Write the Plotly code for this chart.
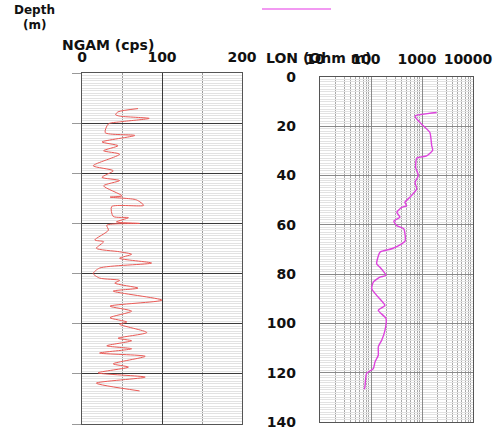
import plotly.graph_objects as go

# NGAM (cps) vs depth (m)
ngam_depth = [14.2, 15.5, 16.6, 17.2, 18.1, 19.5, 20.3, 23.8, 24.9, 27.5, 29.0, 31.0, 32.4, 37.0,
              39.0, 41.6, 42.9, 45.0, 49.0, 49.5, 50.6, 52.8, 53.3, 57.2, 57.7, 59.4, 60.0, 60.7,
              62.7, 66.6, 67.3, 69.9, 71.3, 72.3, 73.9, 75.8, 77.8, 80.0, 81.8, 82.7, 83.8, 85.8,
              87.0, 90.6, 93.0, 95.0, 97.6, 99.3, 100.2, 103.5, 105.8, 106.8, 108.8, 110.0, 111.7,
              113.0, 116.0, 117.3, 119.6, 121.3, 123.7, 126.8]
ngam_val = [70, 45, 42, 47, 84, 47, 33, 29, 66, 25, 45, 27, 47, 14,
            39, 25, 47, 27, 50, 35, 68, 77, 37, 39, 58, 43, 72, 31,
            33, 16, 27, 18, 47, 62, 47, 87, 22, 14, 22, 47, 41, 70,
            39, 100, 35, 62, 35, 56, 47, 81, 45, 62, 31, 62, 22,
            79, 39, 58, 20, 79, 18, 72]

# LON (Ohm m) vs depth (m)
lon_depth = [14.4, 15.8, 17.1, 19.8, 22.5, 27.9, 29.7, 32.0, 32.9, 36.7, 40.0, 42.8, 45.4, 48.8,
             50.9, 52.2, 52.9, 54.9, 56.9, 58.5, 60.3, 61.6, 66.4, 67.7, 69.7, 71.1, 75.8, 77.2,
             80.5, 81.2, 83.2, 85.9, 88.6, 92.7, 94.7, 98.0, 102.8, 106.8, 109.5, 112.9, 115.6,
             118.3, 120.3, 125.7, 126.7]
lon_val = [1940, 730, 790, 1060, 1430, 1550, 1620, 1230, 790, 750, 850, 730, 790, 580,
           460, 500, 400, 320, 370, 280, 320, 440, 470, 400, 255, 150, 129, 150,
           197, 150, 111, 103, 129, 188, 139, 197, 188, 162, 139, 139, 120,
           111, 82, 76, 74]

ngam_ticks = [0, 100, 200]
ngam_minor = [50, 150]
lon_ticks = [10, 100, 1000, 10000]
lon_labels = ["10", "100", "1000", "10000"]
depth_ticks = [0, 20, 40, 60, 80, 100, 120, 140]

FONT = "DejaVu Sans"
W, H = 500, 427

def px_x(p):
    return p / W

def px_y(p):
    return 1 - p / H

fig = go.Figure()
fig.add_trace(go.Scatter(x=ngam_val, y=ngam_depth, mode="lines", xaxis="x", yaxis="y",
                         line=dict(color="#ea5a56", width=1, shape="spline", smoothing=0.7),
                         showlegend=False, name="NGAM"))
fig.add_trace(go.Scatter(x=lon_val, y=lon_depth, mode="lines", xaxis="x2", yaxis="y2",
                         line=dict(color="#dd44dd", width=1.4, shape="spline", smoothing=0.5),
                         showlegend=False, name="LON"))

tickfont = dict(family=FONT, size=14, color="#111", weight="bold")

fig.update_layout(
    width=W, height=H, autosize=False,
    margin=dict(l=0, r=0, t=0, b=0, autoexpand=False),
    paper_bgcolor="white", plot_bgcolor="white",
    font=dict(family=FONT),
    xaxis=dict(domain=[px_x(82), px_x(242)], anchor="y", side="top", range=[0, 200],
               automargin=False, ticklabeloverflow="allow",
               tickmode="array", tickvals=ngam_ticks, ticks="", tickfont=tickfont,
               ticklabelstandoff=4,
               showgrid=True, gridcolor="#3a3a3a", gridwidth=1.2,
               minor=dict(tickmode="array", tickvals=ngam_minor, showgrid=True,
                          gridcolor="#9a9a9a", gridwidth=1),
               showline=True, linecolor="#555", linewidth=1.2, mirror=True, zeroline=False),
    yaxis=dict(domain=[px_y(424), px_y(73)], anchor="x", range=[140, 0],
               automargin=False,
               tickmode="array", tickvals=depth_ticks, showticklabels=False,
               ticks="outside", ticklen=9, tickcolor="#999",
               showgrid=True, gridcolor="#3a3a3a", gridwidth=1.2,
               minor=dict(dtick=1, showgrid=True, gridcolor="#e2e2e2", gridwidth=0.6),
               showline=True, linecolor="#555", linewidth=1.2, mirror=True, zeroline=False),
    xaxis2=dict(domain=[px_x(320), px_x(473)], anchor="y2", side="top", type="log",
                range=[1, 4], automargin=False, ticklabeloverflow="allow",
                tickmode="array", tickvals=lon_ticks, ticktext=lon_labels, ticks="",
                tickfont=tickfont, ticklabelstandoff=6, ticklabelshift=-5,
                showgrid=True, gridcolor="#8a8a8a", gridwidth=1,
                minor=dict(dtick="D1", showgrid=True, gridcolor="#a8a8a8", gridwidth=1),
                showline=True, linecolor="#555", linewidth=1.2, mirror=True, zeroline=False),
    yaxis2=dict(domain=[px_y(422), px_y(77)], anchor="x2", range=[140, 0],
                automargin=False, ticklabeloverflow="allow",
                tickmode="array", tickvals=depth_ticks, ticks="", tickfont=tickfont,
                ticklabelstandoff=20,
                showgrid=True, gridcolor="#8a8a8a", gridwidth=1,
                minor=dict(dtick=1, showgrid=True, gridcolor="#e2e2e2", gridwidth=0.6),
                showline=True, linecolor="#555", linewidth=1.2, mirror=True, zeroline=False),
    annotations=[
        dict(text="<b>Depth</b>", x=px_x(34), y=px_y(10), xref="paper", yref="paper",
             xanchor="center", yanchor="middle", showarrow=False,
             font=dict(family=FONT, size=12, color="#111")),
        dict(text="<b>(m)</b>", x=px_x(34), y=px_y(25), xref="paper", yref="paper",
             xanchor="center", yanchor="middle", showarrow=False,
             font=dict(family=FONT, size=12, color="#111")),
        dict(text="<b>NGAM (cps)</b>", x=px_x(60), y=px_y(45), xref="paper", yref="paper",
             xanchor="left", yanchor="middle", showarrow=False,
             font=dict(family=FONT, size=14, color="#111")),
        dict(text="<b>LON (Ohm m)</b>", x=px_x(264), y=px_y(58), xref="paper", yref="paper",
             xanchor="left", yanchor="middle", showarrow=False,
             font=dict(family=FONT, size=14, color="#111")),
    ],
    shapes=[
        dict(type="line", xref="paper", yref="paper", x0=px_x(262), x1=px_x(331),
             y0=px_y(9), y1=px_y(9), line=dict(color="#ee77ee", width=1.5)),
    ],
)

fig.write_html("out.html", config={"displayModeBar": False},
               post_script="document.body.style.margin='0px';document.body.style.overflow='hidden';")
